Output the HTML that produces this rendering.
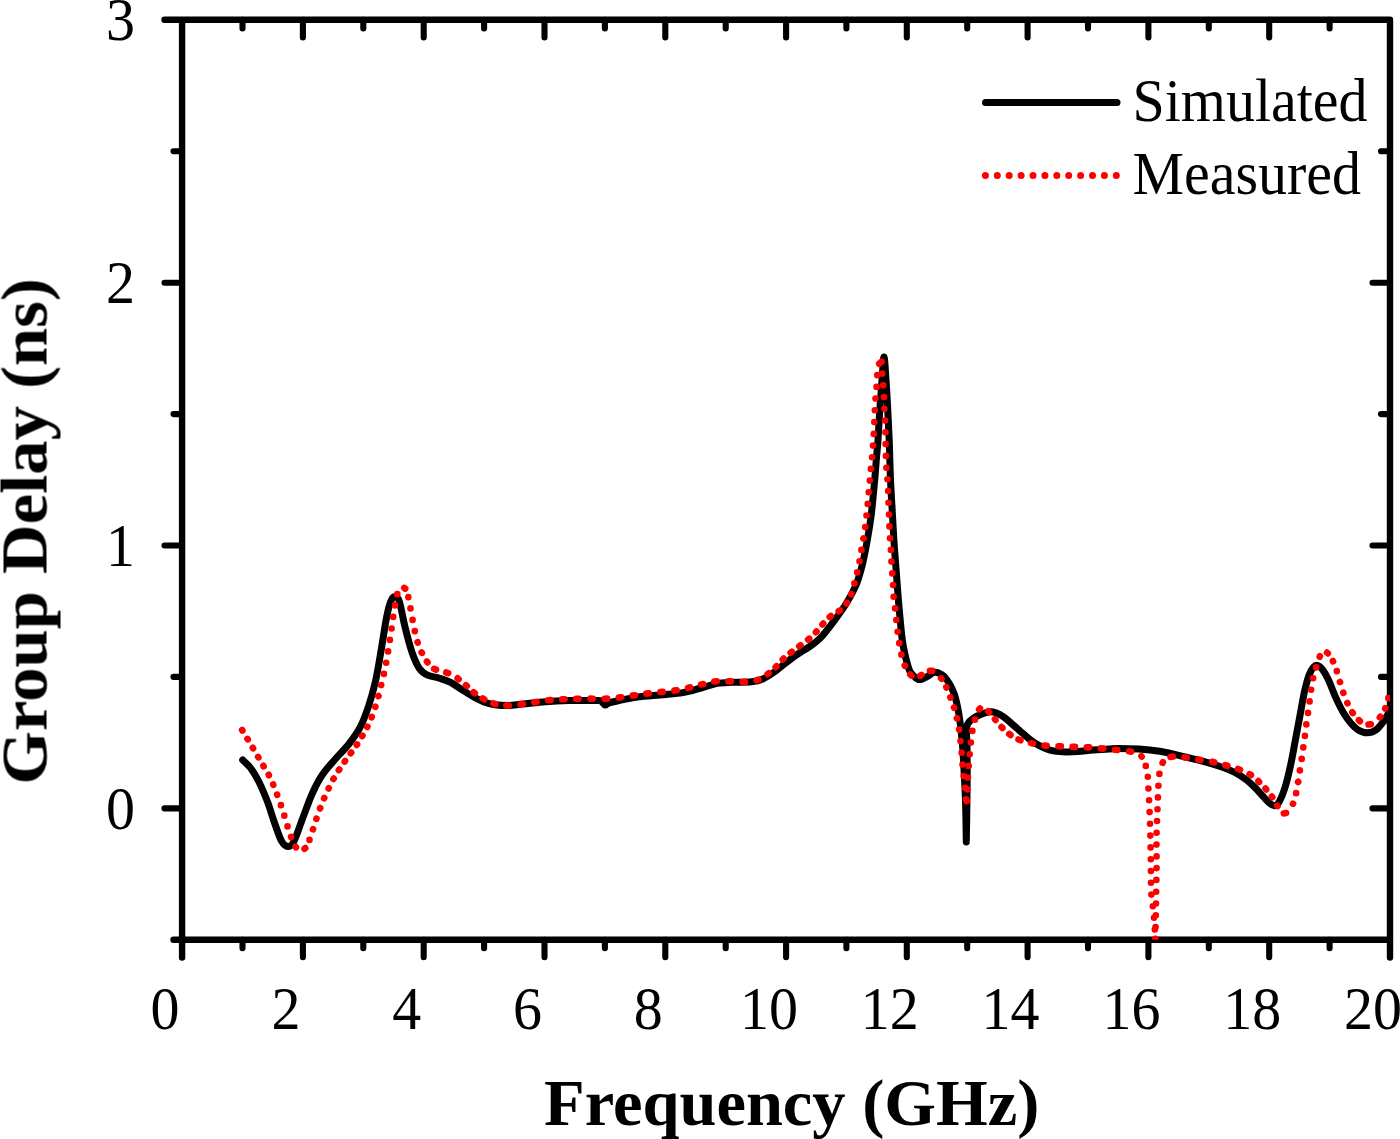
<!DOCTYPE html>
<html><head><meta charset="utf-8"><title>Group Delay</title>
<style>
html,body{margin:0;padding:0;background:#fff;}
body{width:1400px;height:1139px;overflow:hidden;}
svg{display:block;}
text{font-family:"Liberation Serif",serif;fill:#000;}
</style></head><body>
<svg width="1400" height="1139" viewBox="0 0 1400 1139">
<rect width="1400" height="1139" fill="#fff"/>
<defs><filter id="soft" x="0" y="0" width="1400" height="1139" filterUnits="userSpaceOnUse"><feGaussianBlur stdDeviation="0.45"/></filter></defs>
<g filter="url(#soft)">
<g stroke="#000" fill="none" stroke-linecap="round">
<path d="M164.5 19.8 H1390.0 M173.5 939.8 H1390.0 M182.1 19.8 V957.5 M1390.0 19.8 V957.5" stroke-width="6.4"/>
<path d="M242.5 939.8 V948.3 M242.5 19.8 V28.5 M302.9 939.8 V957.3 M302.9 19.8 V37.5 M363.3 939.8 V948.3 M363.3 19.8 V28.5 M423.7 939.8 V957.3 M423.7 19.8 V37.5 M484.1 939.8 V948.3 M484.1 19.8 V28.5 M544.5 939.8 V957.3 M544.5 19.8 V37.5 M604.9 939.8 V948.3 M604.9 19.8 V28.5 M665.3 939.8 V957.3 M665.3 19.8 V37.5 M725.7 939.8 V948.3 M725.7 19.8 V28.5 M786.1 939.8 V957.3 M786.1 19.8 V37.5 M846.4 939.8 V948.3 M846.4 19.8 V28.5 M906.8 939.8 V957.3 M906.8 19.8 V37.5 M967.2 939.8 V948.3 M967.2 19.8 V28.5 M1027.6 939.8 V957.3 M1027.6 19.8 V37.5 M1088.0 939.8 V948.3 M1088.0 19.8 V28.5 M1148.4 939.8 V957.3 M1148.4 19.8 V37.5 M1208.8 939.8 V948.3 M1208.8 19.8 V28.5 M1269.2 939.8 V957.3 M1269.2 19.8 V37.5 M1329.6 939.8 V948.3 M1329.6 19.8 V28.5 M181.1 151.2 H173.5 M1390.0 151.2 H1381.0 M181.1 282.7 H164.5 M1390.0 282.7 H1372.5 M181.1 414.1 H173.5 M1390.0 414.1 H1381.0 M181.1 545.5 H164.5 M1390.0 545.5 H1372.5 M181.1 676.9 H173.5 M1390.0 676.9 H1381.0 M181.1 808.4 H164.5 M1390.0 808.4 H1372.5" stroke-width="6.1"/>
</g>
<defs><clipPath id="pc"><rect x="182.1" y="19.8" width="1207.9" height="920.0"/></clipPath></defs>
<g fill="none" stroke-linejoin="round" clip-path="url(#pc)">
<path d="M242.7 760.0C244.0 761.3 247.9 764.3 250.6 768.0C253.3 771.7 256.2 776.4 259.0 782.0C261.8 787.6 264.8 794.8 267.4 801.6C270.0 808.4 272.1 816.1 274.5 822.7C276.9 829.3 279.2 837.0 281.5 841.0C283.8 845.0 286.4 846.6 288.5 846.6C290.6 846.6 291.8 845.7 294.1 841.0C296.5 836.3 299.6 826.5 302.6 818.5C305.7 810.5 309.1 800.5 312.4 793.2C315.7 786.0 318.4 780.6 322.2 775.0C325.9 769.4 330.4 764.7 334.9 759.5C339.3 754.3 344.7 749.4 348.9 744.0C353.1 738.6 356.9 733.5 360.2 727.2C363.5 720.9 366.0 713.8 368.6 706.1C371.2 698.4 373.5 690.2 375.6 680.8C377.7 671.4 379.3 660.7 381.2 649.9C383.1 639.1 385.1 624.4 386.8 616.2C388.5 608.0 389.7 604.0 391.1 600.7C392.5 597.4 393.9 596.3 395.3 596.5C396.7 596.7 397.9 596.9 399.5 602.0C401.1 607.1 403.0 618.9 405.1 627.4C407.2 635.9 409.8 645.9 412.1 652.7C414.5 659.5 416.6 664.5 419.2 668.2C421.8 672.0 424.3 673.6 427.6 675.2C430.9 676.8 435.1 676.8 438.8 678.0C442.6 679.2 446.4 680.3 450.1 682.2C453.9 684.1 457.6 686.9 461.3 689.2C465.0 691.6 468.8 694.2 472.5 696.3C476.2 698.4 480.1 700.5 483.8 701.9C487.6 703.3 490.8 704.1 495.0 704.7C499.2 705.3 504.4 705.6 509.0 705.5C513.6 705.4 516.8 704.6 522.9 704.0C529.0 703.4 538.1 702.3 545.7 701.7C553.3 701.1 559.9 700.8 568.6 700.6C577.3 700.4 592.4 700.4 598.0 700.6C603.6 700.8 600.8 701.2 602.0 702.0C603.2 702.8 603.9 704.9 605.1 705.1C606.3 705.3 606.7 703.8 609.0 703.0C611.3 702.2 614.2 701.6 618.9 700.6C623.6 699.6 630.2 698.1 637.1 697.1C644.0 696.1 652.4 695.6 660.0 694.9C667.6 694.1 676.0 693.8 682.9 692.6C689.8 691.5 695.4 689.5 701.1 688.0C706.8 686.5 711.8 684.4 717.1 683.4C722.4 682.4 727.4 682.6 733.1 682.3C738.8 682.0 746.4 682.4 751.4 681.8C756.4 681.2 759.1 680.5 762.9 678.9C766.7 677.3 770.5 674.7 774.3 672.0C778.1 669.3 781.9 665.8 785.7 662.9C789.5 660.0 793.2 657.1 797.1 654.5C801.0 651.9 805.1 649.7 809.0 647.0C812.9 644.3 816.0 642.6 820.2 638.2C824.4 633.8 829.9 626.5 834.3 620.6C838.7 614.7 843.0 608.9 846.6 603.0C850.2 597.1 853.4 591.2 855.9 585.4C858.4 579.5 859.9 573.8 861.5 567.9C863.1 562.0 864.2 556.1 865.4 550.3C866.6 544.5 867.5 538.9 868.5 533.0C869.5 527.1 870.5 520.9 871.2 515.1C872.0 509.3 872.4 503.9 873.0 498.0C873.6 492.1 874.2 486.3 874.7 480.0C875.2 473.7 875.8 466.7 876.3 460.0C876.8 453.3 877.4 448.9 878.0 440.0C878.6 431.1 879.3 416.7 880.0 406.7C880.7 396.7 881.3 388.3 882.0 380.0C882.7 371.7 883.3 357.0 884.0 357.0C884.7 357.0 885.4 371.7 886.0 380.0C886.6 388.3 887.1 396.7 887.6 406.7C888.1 416.7 888.7 427.8 889.2 440.0C889.7 452.2 890.0 468.9 890.5 480.0C891.0 491.1 891.4 496.7 892.0 506.7C892.6 516.7 893.2 528.9 893.9 540.0C894.6 551.1 895.5 562.2 896.4 573.3C897.2 584.4 898.0 595.6 899.0 606.7C900.0 617.8 901.2 631.6 902.3 640.0C903.4 648.4 904.4 651.8 905.6 657.0C906.9 662.2 908.1 667.5 909.8 671.0C911.4 674.5 913.8 676.3 915.5 677.7C917.2 679.1 918.4 679.8 920.3 679.6C922.2 679.4 924.8 677.9 927.0 676.7C929.2 675.5 931.9 673.1 933.8 672.5C935.7 671.9 936.9 672.3 938.6 673.0C940.3 673.7 942.4 674.7 944.2 676.5C946.0 678.3 947.9 681.1 949.6 684.0C951.3 686.9 952.9 690.2 954.3 694.1C955.6 698.0 956.7 702.8 957.7 707.6C958.7 712.4 959.4 716.7 960.2 723.1C961.0 729.5 961.9 737.5 962.6 746.2C963.3 754.9 963.8 765.5 964.3 775.2C964.8 784.9 965.3 793.1 965.6 804.2C965.9 815.3 966.2 835.6 966.3 841.9L966.3 841.9C966.4 835.6 966.8 815.3 966.9 804.2C967.0 793.1 967.2 784.9 967.2 775.2C967.2 765.5 967.1 753.4 967.0 746.2C966.9 739.0 966.4 735.7 966.5 732.0C966.6 728.3 966.5 726.3 967.6 724.0C968.8 721.7 971.1 719.8 973.4 718.2C975.6 716.6 978.5 715.5 981.1 714.4C983.7 713.3 986.3 712.1 988.9 711.9C991.5 711.7 994.0 712.1 996.6 713.0C999.2 713.9 1001.7 715.5 1004.3 717.3C1006.9 719.1 1009.4 721.8 1012.0 724.0C1014.6 726.2 1017.2 728.5 1019.8 730.8C1022.4 733.0 1024.9 735.4 1027.5 737.5C1030.1 739.6 1032.3 741.5 1035.2 743.3C1038.1 745.1 1041.7 746.9 1044.9 748.2C1048.1 749.5 1051.0 750.5 1054.5 751.1C1058.0 751.7 1062.2 751.9 1066.1 752.0C1070.0 752.1 1073.2 751.9 1077.7 751.6C1082.2 751.3 1088.1 750.5 1093.2 750.1C1098.3 749.7 1104.5 749.4 1108.6 749.1C1112.7 748.8 1112.9 748.4 1117.9 748.4C1122.9 748.4 1131.8 748.5 1138.8 749.0C1145.8 749.5 1152.7 750.2 1159.7 751.3C1166.7 752.4 1173.6 754.2 1180.6 755.8C1187.6 757.4 1195.0 759.1 1201.5 760.9C1208.0 762.6 1213.9 764.4 1219.4 766.3C1224.9 768.2 1229.8 770.0 1234.3 772.2C1238.8 774.4 1242.8 777.1 1246.3 779.7C1249.8 782.3 1252.2 784.8 1255.2 787.8C1258.2 790.8 1261.7 795.0 1264.2 797.6C1266.7 800.2 1268.4 802.2 1270.1 803.6C1271.8 805.0 1273.1 806.0 1274.6 805.7C1276.1 805.5 1277.3 805.2 1279.1 802.1C1280.8 799.0 1283.1 793.7 1285.1 787.2C1287.1 780.7 1289.3 771.3 1291.0 763.3C1292.7 755.3 1294.0 747.4 1295.5 739.4C1297.0 731.4 1298.5 723.5 1300.0 715.5C1301.5 707.5 1303.0 698.3 1304.5 691.6C1306.0 684.9 1307.5 679.3 1309.0 675.2C1310.5 671.1 1312.0 668.8 1313.4 667.2C1314.8 665.6 1315.8 665.0 1317.3 665.4C1318.8 665.8 1320.6 666.9 1322.4 669.3C1324.2 671.7 1326.2 675.0 1328.4 679.7C1330.6 684.4 1333.3 692.1 1335.8 697.6C1338.3 703.1 1340.8 708.3 1343.3 712.5C1345.8 716.7 1348.2 720.1 1350.7 723.0C1353.2 725.9 1355.5 728.3 1358.2 729.9C1361.0 731.5 1364.2 732.8 1367.2 732.8C1370.2 732.8 1373.4 731.8 1376.1 729.9C1378.8 728.0 1381.6 724.1 1383.6 721.5C1385.6 718.9 1387.3 715.2 1388.0 714.0" stroke="#000" stroke-width="7" stroke-linecap="round"/>
<path d="M242.1 730.0L242.4 730.6M247.5 738.9L247.8 739.4M252.8 747.8L253.1 748.3M258.1 756.9L258.4 757.4M263.4 765.8L263.7 766.4M268.7 774.8L268.9 775.2M273.2 784.5L273.3 784.8M277.1 794.6L277.2 794.9M280.9 805.0L280.9 805.2M284.3 815.6L284.3 815.8M287.5 826.3L287.5 826.5M291.0 836.9L291.1 837.2M295.6 846.7L296.0 847.4M304.5 848.8L305.3 848.1M309.5 840.0L309.5 839.8M313.0 829.4L313.1 829.2M316.4 818.9L316.5 818.6M320.0 808.4L320.2 808.1M324.1 798.3L324.3 797.9M328.6 788.5L328.8 788.1M333.4 779.0L333.7 778.5M338.8 770.1L339.3 769.5M344.7 761.6L345.1 760.9M350.7 753.2L351.2 752.6M356.7 744.9L357.1 744.4M362.2 736.1L362.5 735.6M367.3 727.0L367.5 726.6M371.7 717.3L371.8 717.0M375.3 706.9L375.4 706.7M378.4 696.1L378.5 696.0M381.2 685.1L381.2 685.0M383.9 674.0L383.9 673.9M386.2 662.8L386.2 662.7M388.1 651.4L388.1 651.3M389.9 639.9h.01M391.6 628.5h.01M393.2 617.0L393.2 616.9M395.0 605.5L395.0 605.4M397.3 594.2L397.3 594.0M404.3 587.9L405.2 588.6M408.3 597.1L408.3 597.2M410.5 608.4L410.5 608.5M412.6 619.8L412.6 619.9M414.8 631.1L414.8 631.2M417.6 642.2L417.7 642.5M421.6 652.4L421.9 652.9M426.9 661.5L427.5 662.3M434.1 668.8L436.0 669.6M446.2 672.5L448.2 673.1M457.6 678.3L458.7 679.2M465.9 685.2L466.9 686.0M473.7 692.2L474.9 693.2M482.7 698.4L484.3 699.3M493.4 703.4L495.5 704.1M506.4 705.5L508.8 705.5M520.5 704.3L522.8 704.0M534.3 702.3L536.6 701.9M548.1 700.3L550.5 700.1M562.2 699.3L564.6 699.2M576.3 698.8L578.7 698.7M590.5 698.6L592.9 698.7M604.7 698.7L607.1 698.6M618.9 697.6L621.2 697.3M632.7 695.6L635.0 695.3M646.5 693.6L648.8 693.3M660.4 692.0L662.8 691.8M674.4 690.5L676.7 690.2M688.0 687.9L690.2 687.3M701.1 684.5L703.3 684.0M714.3 681.5L716.7 681.3M728.4 681.3L730.8 681.4M742.6 681.9L745.0 681.9M756.6 680.4L758.6 679.7M767.6 674.1L768.7 673.2M775.6 667.1L776.5 666.3M782.7 659.5L783.6 658.6M790.6 652.7L791.8 651.8M799.3 646.2L800.5 645.3M808.1 639.6L809.2 638.7M815.9 632.2L816.5 631.5M822.5 624.4L823.2 623.6M829.7 617.0L830.8 616.1M838.7 611.2L840.2 610.4M846.6 603.4L847.0 602.8M851.3 594.2L851.4 594.0M854.4 583.5L854.4 583.3M857.2 572.5L857.2 572.4M859.5 561.3L859.5 561.3M861.4 549.9L861.4 549.8M863.4 538.5L863.5 538.4M865.2 527.1h.01M866.5 515.5h.01M867.7 503.9h.01M868.7 492.2h.01M869.8 480.6h.01M870.9 468.9h.01M872.1 457.3h.01M873.0 445.6h.01M873.8 433.9h.01M874.3 422.1h.01M874.8 410.3h.01M875.5 398.6h.01M876.6 386.9h.01M877.3 375.2L877.3 375.1M879.2 363.7L879.3 363.6M881.6 361.8h.01M882.3 373.6h.01M883.2 385.3h.01M884.0 397.0h.01M884.4 408.8h.01M885.0 420.5h.01M885.4 432.3h.01M885.6 444.1h.01M885.9 455.9h.01M886.4 467.7h.01M887.4 479.3h.01M888.1 491.1h.01M888.5 502.8h.01M889.0 514.6h.01M889.4 526.4h.01M890.0 538.2h.01M890.9 549.9h.01M891.4 561.6h.01M892.3 573.4h.01M893.1 585.1h.01M893.6 596.8h.01M895.1 608.4h.01M896.3 620.0h.01M897.6 631.7L897.6 631.7M899.3 643.1L899.3 643.2M901.4 654.6L901.4 654.7M904.7 665.5L904.9 665.8M910.3 674.6L911.4 675.6M920.2 675.8L921.5 674.9M929.9 670.7L932.3 670.8M941.1 678.3L941.5 678.8M946.3 687.2L946.4 687.5M950.3 697.3L950.4 697.6M954.0 707.5L954.1 707.7M956.9 718.3L957.0 718.4M959.1 729.6h.01M960.5 741.1h.01M961.6 752.7h.01M962.5 764.5h.01M963.7 776.1h.01M965.1 787.7h.01M966.1 799.3h.01M966.8 801.2h.01M967.3 789.4h.01M967.9 777.6h.01M968.7 765.9h.01M969.7 754.2h.01M970.9 742.6h.01M972.4 731.0L972.4 730.9M974.9 719.7L974.9 719.5M979.1 709.4L980.0 708.4M988.2 711.3L989.1 712.1M994.9 719.2L995.5 719.9M1001.5 727.0L1002.4 727.9M1009.3 734.0L1010.5 734.9M1018.5 739.5L1020.5 740.3M1031.0 743.1L1033.2 743.6M1044.4 745.6L1046.7 745.8M1058.5 746.3L1060.9 746.4M1072.6 746.9L1075.0 746.9M1086.8 747.3L1089.2 747.4M1100.9 748.4L1103.3 748.6M1114.9 749.8L1117.3 750.0M1129.0 751.3L1131.2 751.7M1141.4 756.1L1141.7 756.6M1145.8 765.7L1145.8 765.9M1147.8 776.8h.01M1148.4 788.5h.01M1149.1 800.3h.01M1149.6 812.1h.01M1150.0 823.8h.01M1150.3 835.6h.01M1150.6 847.4h.01M1150.8 859.2h.01M1150.9 871.0h.01M1151.0 882.8h.01M1151.4 894.6h.01M1152.8 906.2h.01M1154.0 917.8h.01M1154.8 929.5h.01M1155.2 941.3h.01M1155.4 938.9h.01M1155.6 927.1h.01M1155.8 915.3h.01M1156.0 903.5h.01M1156.2 891.7h.01M1156.4 879.9h.01M1156.6 868.1h.01M1156.6 856.4h.01M1156.5 844.6h.01M1156.6 832.8h.01M1157.0 821.0h.01M1157.5 809.2h.01M1157.9 797.4h.01M1158.4 785.7h.01M1159.4 773.9L1159.4 773.9M1162.6 762.9L1162.9 762.3M1170.5 756.9L1172.9 756.6M1184.6 757.4L1186.9 757.8M1198.3 759.7L1200.6 760.1M1212.1 761.8L1214.3 762.3M1225.2 765.2L1227.4 765.8M1238.0 769.0L1240.0 769.8M1249.5 774.2L1251.0 775.0M1258.3 781.1L1259.1 782.0M1265.5 788.6L1266.2 789.4M1271.9 796.6L1272.3 797.2M1277.2 805.6L1277.5 806.1M1283.8 813.4L1286.1 813.0M1293.0 803.8L1293.1 803.6M1296.1 793.2L1296.1 793.1M1298.1 781.9L1298.2 781.8M1299.9 770.4L1299.9 770.3M1301.7 758.9h.01M1303.3 747.4h.01M1304.9 735.9h.01M1306.3 724.4h.01M1308.0 712.9L1308.0 712.8M1309.6 701.4h.01M1311.1 689.8L1311.1 689.7M1313.1 678.3L1313.1 678.2M1316.1 667.4L1316.1 667.2M1319.7 656.7L1319.9 656.3M1327.0 652.6L1327.9 653.4M1332.9 661.0L1333.1 661.4M1336.8 671.1L1336.8 671.2M1339.9 681.9L1340.0 682.1M1343.3 692.6L1343.4 692.9M1347.3 702.9L1347.5 703.3M1352.3 712.3L1352.8 713.0M1358.9 720.2L1359.9 721.2M1368.5 724.5L1370.8 724.2M1379.8 717.4L1380.3 716.7M1385.2 708.5L1385.3 708.2M1388.3 698.2L1388.3 698.1" stroke="#f00" stroke-width="6.6" stroke-linecap="round"/>
</g>
<text transform="translate(165.1 1028.6) scale(0.966 1.030)" font-size="60" text-anchor="middle">0</text>
<text transform="translate(285.9 1028.6) scale(0.966 1.030)" font-size="60" text-anchor="middle">2</text>
<text transform="translate(406.7 1028.6) scale(0.966 1.030)" font-size="60" text-anchor="middle">4</text>
<text transform="translate(527.5 1028.6) scale(0.966 1.030)" font-size="60" text-anchor="middle">6</text>
<text transform="translate(648.3 1028.6) scale(0.966 1.030)" font-size="60" text-anchor="middle">8</text>
<text transform="translate(769.1 1028.6) scale(0.966 1.030)" font-size="60" text-anchor="middle">10</text>
<text transform="translate(889.8 1028.6) scale(0.966 1.030)" font-size="60" text-anchor="middle">12</text>
<text transform="translate(1010.6 1028.6) scale(0.966 1.030)" font-size="60" text-anchor="middle">14</text>
<text transform="translate(1131.4 1028.6) scale(0.966 1.030)" font-size="60" text-anchor="middle">16</text>
<text transform="translate(1252.2 1028.6) scale(0.966 1.030)" font-size="60" text-anchor="middle">18</text>
<text transform="translate(1373.0 1028.6) scale(0.966 1.030)" font-size="60" text-anchor="middle">20</text>
<text transform="translate(120.5 40.3) scale(0.966 1.030)" font-size="60" text-anchor="middle">3</text>
<text transform="translate(120.5 303.2) scale(0.966 1.030)" font-size="60" text-anchor="middle">2</text>
<text transform="translate(120.5 566.0) scale(0.966 1.030)" font-size="60" text-anchor="middle">1</text>
<text transform="translate(120.5 828.9) scale(0.966 1.030)" font-size="60" text-anchor="middle">0</text>
<path d="M985.5 102.5 H1117" stroke="#000" stroke-width="7" stroke-linecap="round" fill="none"/>
<path d="M985.4 175.4 H1117" stroke="#f00" stroke-width="7" stroke-linecap="round" stroke-dasharray="0.01 11.89" fill="none"/>
<text transform="translate(1132.5 121.2) scale(0.966 1.020)" font-size="60" text-anchor="start">Simulated</text>
<text transform="translate(1132.5 193.5) scale(0.966 1.020)" font-size="60" text-anchor="start">Measured</text>
<text transform="translate(791.7 1124.8) scale(1.007 0.992)" font-size="66" text-anchor="middle" font-weight="bold">Frequency (GHz)</text>
<text transform="translate(46.5 531.4) rotate(-90) scale(1.041 1.000)" font-size="66" text-anchor="middle" font-weight="bold">Group Delay (ns)</text>
</g>
</svg>
</body></html>
